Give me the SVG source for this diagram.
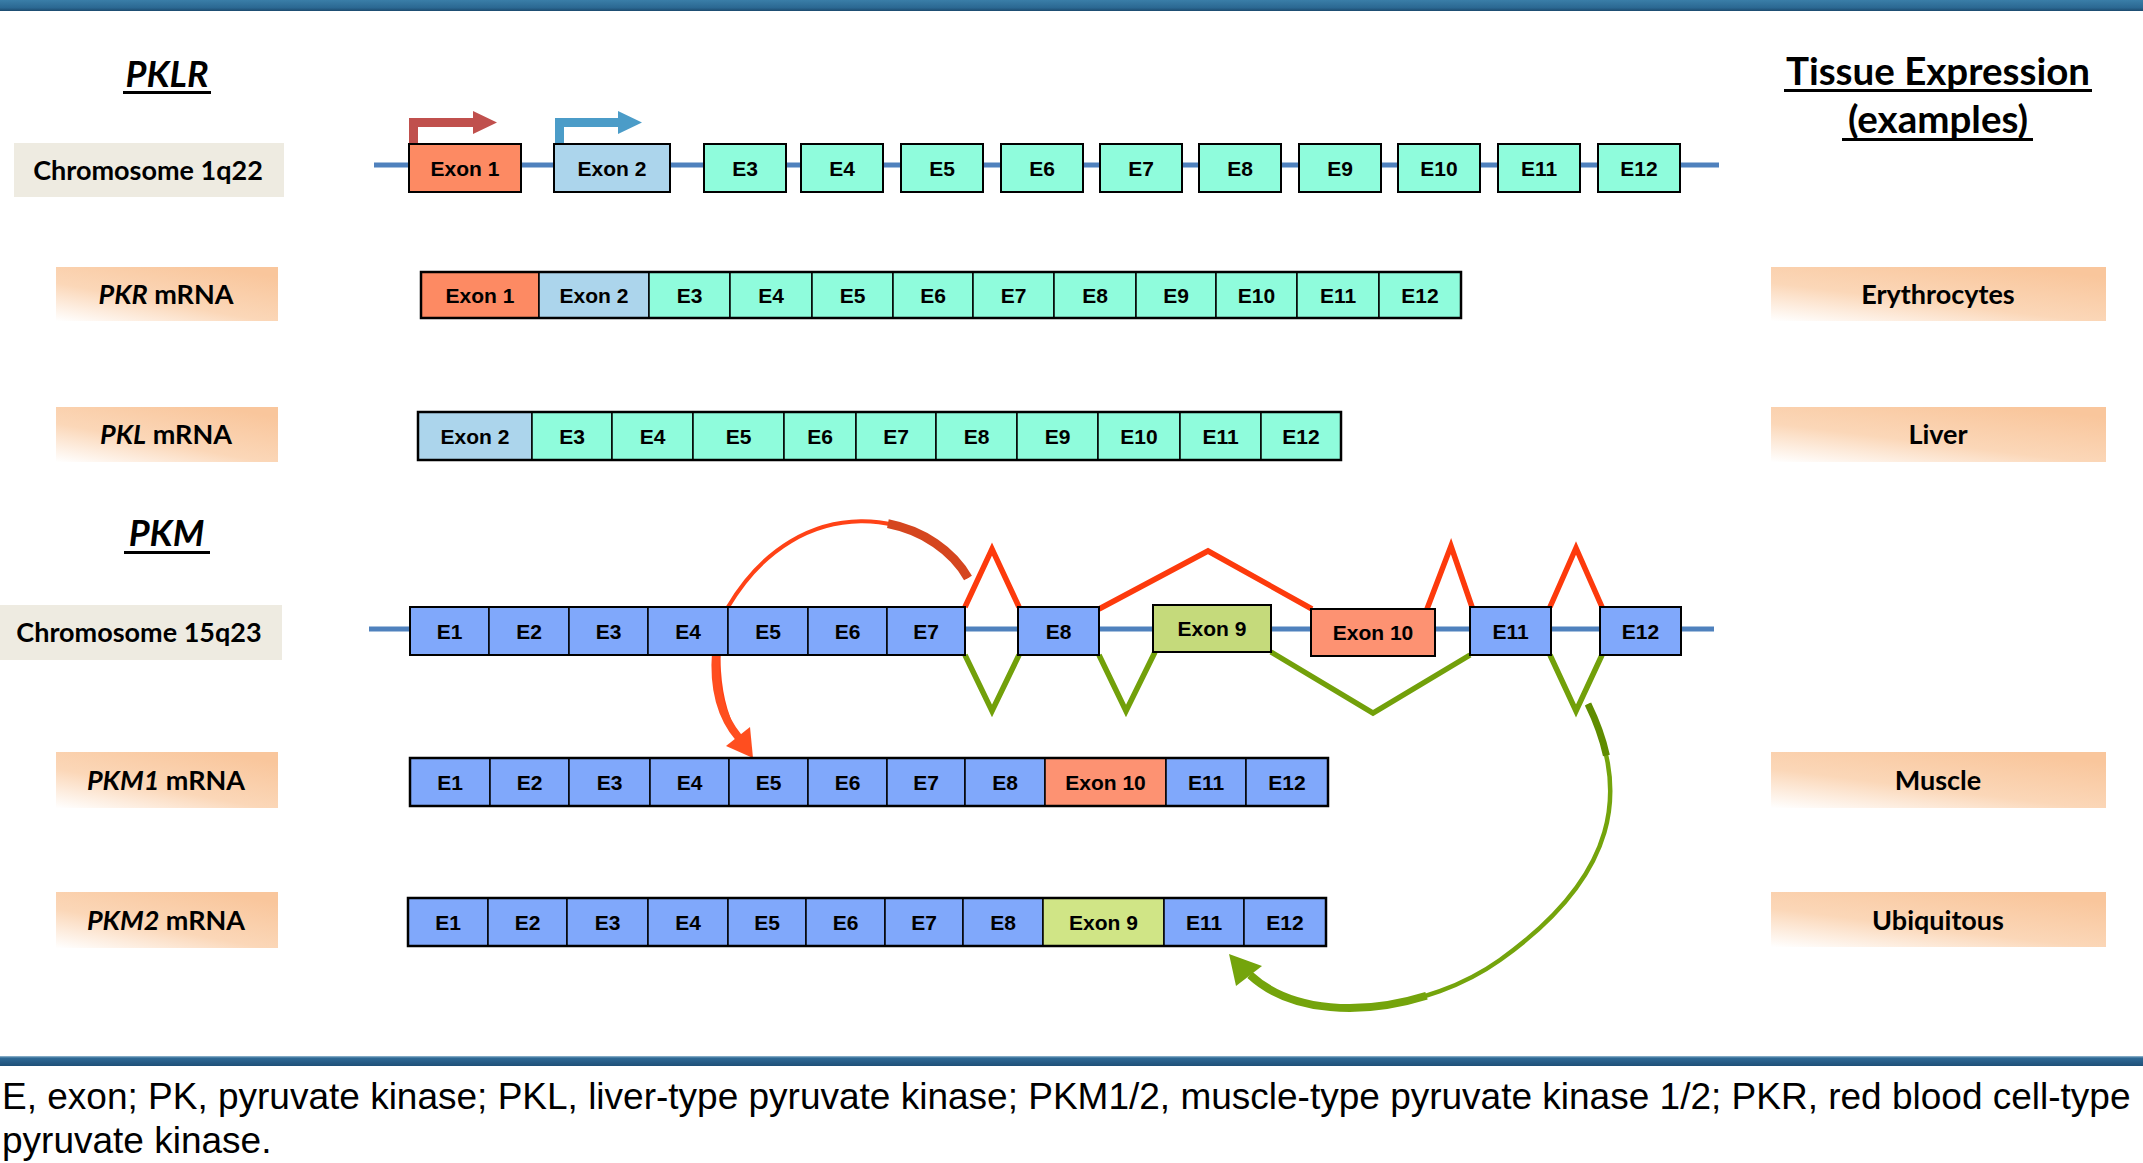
<svg xmlns="http://www.w3.org/2000/svg" width="2143" height="1163" viewBox="0 0 2143 1163">
<defs>
<linearGradient id="peach" x1="0" y1="1" x2="0.75" y2="0">
<stop offset="0" stop-color="#ffffff"/>
<stop offset="0.45" stop-color="#fbd7b8"/>
<stop offset="1" stop-color="#f9c69c"/>
</linearGradient>
<linearGradient id="barTop" x1="0" y1="0" x2="0" y2="1">
<stop offset="0" stop-color="#3a7ea8"/>
<stop offset="0.7" stop-color="#2b6892"/>
<stop offset="1" stop-color="#1c4a6e"/>
</linearGradient>
<linearGradient id="barBot" x1="0" y1="0" x2="0" y2="1">
<stop offset="0" stop-color="#9dbdd3"/>
<stop offset="0.2" stop-color="#2f6a96"/>
<stop offset="1" stop-color="#1f4f78"/>
</linearGradient>
</defs>
<style>
.bx{stroke:#000;stroke-width:2}
.sg{stroke:#000;stroke-width:1.5}
.out{fill:none;stroke:#000;stroke-width:2.5}
.o{fill:#fd8a63}
.b{fill:#acd5ec}
.m{fill:#8ffcdc}
.p{fill:#80a8fb}
.g{fill:#c5da7b}
.g2{fill:#d0e586}
.s{fill:#fd9272}
.ex{font-family:"Liberation Sans",Arial,sans-serif;font-weight:bold;font-size:21px;text-anchor:middle;fill:#000}
.lb{font-family:Lato,"Open Sans",sans-serif;font-weight:bold;font-size:27px;text-anchor:middle;fill:#000}
.ttl{font-family:Lato,"Open Sans",sans-serif;font-weight:bold;font-style:italic;font-size:36px;text-anchor:middle;fill:#000}
.hd{font-family:Lato,"Open Sans",sans-serif;font-weight:bold;font-size:38.5px;text-anchor:middle;fill:#000}
.cap{font-family:"Liberation Sans",Arial,sans-serif;font-size:37px;fill:#000}
.peach{fill:url(#peach)}
.bb{stroke:#4f81bd;stroke-width:5;fill:none}
.red{fill:none;stroke:#fd3a0c;stroke-width:5.5;stroke-linejoin:miter}
.grn{fill:none;stroke:#72a00a;stroke-width:5.5;stroke-linejoin:miter}
</style>
<rect width="2143" height="1163" fill="#ffffff"/>
<rect x="0" y="0" width="2143" height="11" fill="url(#barTop)"/>
<rect x="0" y="1056" width="2143" height="10" fill="url(#barBot)"/>

<g id="titles">
<text class="ttl" x="167" y="87">PKLR</text>
<rect x="123" y="91" width="88" height="3" fill="#000"/>
<text class="ttl" x="166.5" y="546">PKM</text>
<rect x="124" y="551" width="86" height="3" fill="#000"/>
<text class="hd" x="1938" y="85">Tissue Expression</text>
<rect x="1784" y="89" width="308" height="3" fill="#000"/>
<text class="hd" x="1938" y="133">(examples)</text>
<rect x="1842" y="138" width="191" height="3" fill="#000"/>
</g>

<g id="backbones">
<line class="bb" x1="374" y1="165" x2="1719" y2="165"/>
<line class="bb" x1="369" y1="629" x2="1714" y2="629"/>
</g>

<g id="connectors">
<path d="M409,145 V118 H473 V111 L497,122.5 L473,134 V127 H418 V145 Z" fill="#c0504d"/>
<path d="M555,145 V118 H618 V111 L642,122.5 L618,134 V127 H564 V145 Z" fill="#4b9cc8"/>
<polyline class="red" points="965,607 992,549 1019,607"/>
<polyline class="red" points="1099,609 1208,551 1312,609"/>
<polyline class="red" points="1427,609 1451,546 1472,607"/>
<polyline class="red" points="1550,607 1576,548 1602,607"/>
<polyline class="grn" points="965,655 992,711 1019,655"/>
<polyline class="grn" points="1099,655 1126,711 1155,652"/>
<polyline class="grn" points="1271,652 1373,713 1470,655"/>
<polyline class="grn" points="1550,655 1576,711 1602,655"/>
<path d="M968,578 C930,510 800,485 728,607 C714,640 714,700 740,742" fill="none" stroke="#ff4216" stroke-width="4"/>
<path d="M968,578 C952.8,550.8 922.9,530.5 887.9,523.7" fill="none" stroke="#d5461f" stroke-width="9"/>
<path d="M716,652 C713,690 722,718 739,738" fill="none" stroke="#ff4e1f" stroke-width="8"/>
<polygon points="726,746 750,727 753,758" fill="#ff4e1f"/>
<path d="M1588,704 C1630,790 1619,875 1500,960 C1430,1010 1310,1030 1250,975" fill="none" stroke="#74a40c" stroke-width="4.5"/>
<path d="M1588,704 C1596.4,721.2 1602.7,738.4 1606.4,755.5" fill="none" stroke="#5f8c00" stroke-width="7"/>
<path d="M1426.5,995.7 C1363.4,1015.25 1292,1013.5 1250,975" fill="none" stroke="#74a40c" stroke-width="8"/>
<polygon points="1229,954 1236,986 1262,966" fill="#74a40c"/>
</g>

<g id="chr1q22-label"><rect x="14" y="143" width="270" height="54" fill="#eeebe1"/><text class="lb" x="148" y="180" font-size="26">Chromosome 1q22</text></g>
<g id="chr15q23-label"><rect x="0" y="605" width="282" height="55" fill="#eeebe1"/><text class="lb" x="139" y="642" font-size="26">Chromosome 15q23</text></g>

<g id="pkr-label"><rect class="peach" x="56" y="267" width="222" height="54"/><text class="lb" x="166" y="304"><tspan font-style="italic">PKR</tspan> mRNA</text></g>
<g id="pkl-label"><rect class="peach" x="56" y="407" width="222" height="55"/><text class="lb" x="166" y="444"><tspan font-style="italic">PKL</tspan> mRNA</text></g>
<g id="pkm1-label"><rect class="peach" x="56" y="752" width="222" height="56"/><text class="lb" x="166" y="790"><tspan font-style="italic">PKM1</tspan> mRNA</text></g>
<g id="pkm2-label"><rect class="peach" x="56" y="892" width="222" height="56"/><text class="lb" x="166" y="930"><tspan font-style="italic">PKM2</tspan> mRNA</text></g>

<g id="tissue-erythrocytes"><rect class="peach" x="1771" y="267" width="335" height="54"/><text class="lb" x="1938" y="304">Erythrocytes</text></g>
<g id="tissue-liver"><rect class="peach" x="1771" y="407" width="335" height="55"/><text class="lb" x="1938" y="444">Liver</text></g>
<g id="tissue-muscle"><rect class="peach" x="1771" y="752" width="335" height="56"/><text class="lb" x="1938" y="790">Muscle</text></g>
<g id="tissue-ubiquitous"><rect class="peach" x="1771" y="892" width="335" height="55"/><text class="lb" x="1938" y="930">Ubiquitous</text></g>

<g id="pklr-gene">
<g id="pklr-exon1"><rect class="o bx" x="409" y="144" width="112" height="48"/><text class="ex" x="465" y="175.5">Exon 1</text></g>
<g id="pklr-exon2"><rect class="b bx" x="554" y="144" width="116" height="48"/><text class="ex" x="612" y="175.5">Exon 2</text></g>
<g id="pklr-e3"><rect class="m bx" x="704" y="144" width="82" height="48"/><text class="ex" x="745" y="175.5">E3</text></g>
<g id="pklr-e4"><rect class="m bx" x="801" y="144" width="82" height="48"/><text class="ex" x="842" y="175.5">E4</text></g>
<g id="pklr-e5"><rect class="m bx" x="901" y="144" width="82" height="48"/><text class="ex" x="942" y="175.5">E5</text></g>
<g id="pklr-e6"><rect class="m bx" x="1001" y="144" width="82" height="48"/><text class="ex" x="1042" y="175.5">E6</text></g>
<g id="pklr-e7"><rect class="m bx" x="1100" y="144" width="82" height="48"/><text class="ex" x="1141" y="175.5">E7</text></g>
<g id="pklr-e8"><rect class="m bx" x="1199" y="144" width="82" height="48"/><text class="ex" x="1240" y="175.5">E8</text></g>
<g id="pklr-e9"><rect class="m bx" x="1299" y="144" width="82" height="48"/><text class="ex" x="1340" y="175.5">E9</text></g>
<g id="pklr-e10"><rect class="m bx" x="1398" y="144" width="82" height="48"/><text class="ex" x="1439" y="175.5">E10</text></g>
<g id="pklr-e11"><rect class="m bx" x="1498" y="144" width="82" height="48"/><text class="ex" x="1539" y="175.5">E11</text></g>
<g id="pklr-e12"><rect class="m bx" x="1598" y="144" width="82" height="48"/><text class="ex" x="1639" y="175.5">E12</text></g>
</g>

<g id="pkr-mrna">
<rect class="o sg" x="421" y="272" width="118" height="46"/>
<rect class="b sg" x="539" y="272" width="110" height="46"/>
<rect class="m sg" x="649" y="272" width="81" height="46"/>
<rect class="m sg" x="730" y="272" width="82" height="46"/>
<rect class="m sg" x="812" y="272" width="81" height="46"/>
<rect class="m sg" x="893" y="272" width="80" height="46"/>
<rect class="m sg" x="973" y="272" width="81" height="46"/>
<rect class="m sg" x="1054" y="272" width="82" height="46"/>
<rect class="m sg" x="1136" y="272" width="80" height="46"/>
<rect class="m sg" x="1216" y="272" width="81" height="46"/>
<rect class="m sg" x="1297" y="272" width="82" height="46"/>
<rect class="m sg" x="1379" y="272" width="82" height="46"/>
<rect class="out" x="421" y="272" width="1040" height="46"/>
<text class="ex" x="480" y="302.5">Exon 1</text>
<text class="ex" x="594" y="302.5">Exon 2</text>
<text class="ex" x="689.5" y="302.5">E3</text>
<text class="ex" x="771" y="302.5">E4</text>
<text class="ex" x="852.5" y="302.5">E5</text>
<text class="ex" x="933" y="302.5">E6</text>
<text class="ex" x="1013.5" y="302.5">E7</text>
<text class="ex" x="1095" y="302.5">E8</text>
<text class="ex" x="1176" y="302.5">E9</text>
<text class="ex" x="1256.5" y="302.5">E10</text>
<text class="ex" x="1338" y="302.5">E11</text>
<text class="ex" x="1420" y="302.5">E12</text>
</g>

<g id="pkl-mrna">
<rect class="b sg" x="418" y="412" width="114" height="48"/>
<rect class="m sg" x="532" y="412" width="80" height="48"/>
<rect class="m sg" x="612" y="412" width="81" height="48"/>
<rect class="m sg" x="693" y="412" width="91" height="48"/>
<rect class="m sg" x="784" y="412" width="72" height="48"/>
<rect class="m sg" x="856" y="412" width="80" height="48"/>
<rect class="m sg" x="936" y="412" width="81" height="48"/>
<rect class="m sg" x="1017" y="412" width="81" height="48"/>
<rect class="m sg" x="1098" y="412" width="82" height="48"/>
<rect class="m sg" x="1180" y="412" width="81" height="48"/>
<rect class="m sg" x="1261" y="412" width="80" height="48"/>
<rect class="out" x="418" y="412" width="923" height="48"/>
<text class="ex" x="475" y="443.5">Exon 2</text>
<text class="ex" x="572" y="443.5">E3</text>
<text class="ex" x="652.5" y="443.5">E4</text>
<text class="ex" x="738.5" y="443.5">E5</text>
<text class="ex" x="820" y="443.5">E6</text>
<text class="ex" x="896" y="443.5">E7</text>
<text class="ex" x="976.5" y="443.5">E8</text>
<text class="ex" x="1057.5" y="443.5">E9</text>
<text class="ex" x="1139" y="443.5">E10</text>
<text class="ex" x="1220.5" y="443.5">E11</text>
<text class="ex" x="1301" y="443.5">E12</text>
</g>

<g id="pkm-gene">
<g id="pkm-e1-e7">
<rect class="p sg" x="410" y="607" width="79" height="48"/>
<rect class="p sg" x="489" y="607" width="80" height="48"/>
<rect class="p sg" x="569" y="607" width="79" height="48"/>
<rect class="p sg" x="648" y="607" width="80" height="48"/>
<rect class="p sg" x="728" y="607" width="80" height="48"/>
<rect class="p sg" x="808" y="607" width="79" height="48"/>
<rect class="p sg" x="887" y="607" width="78" height="48"/>
<rect class="out" x="410" y="607" width="555" height="48" style="stroke-width:2"/>
<text class="ex" x="449.5" y="638.5">E1</text>
<text class="ex" x="529" y="638.5">E2</text>
<text class="ex" x="608.5" y="638.5">E3</text>
<text class="ex" x="688" y="638.5">E4</text>
<text class="ex" x="768" y="638.5">E5</text>
<text class="ex" x="847.5" y="638.5">E6</text>
<text class="ex" x="926" y="638.5">E7</text>
</g>
<g id="pkm-e8"><rect class="p bx" x="1018" y="607" width="81" height="48"/><text class="ex" x="1058.5" y="638.5">E8</text></g>
<g id="pkm-exon9"><rect class="g bx" x="1153" y="605" width="118" height="47"/><text class="ex" x="1212" y="636">Exon 9</text></g>
<g id="pkm-exon10"><rect class="s bx" x="1311" y="609" width="124" height="47"/><text class="ex" x="1373" y="640">Exon 10</text></g>
<g id="pkm-e11"><rect class="p bx" x="1470" y="607" width="81" height="48"/><text class="ex" x="1510.5" y="638.5">E11</text></g>
<g id="pkm-e12"><rect class="p bx" x="1600" y="607" width="81" height="48"/><text class="ex" x="1640.5" y="638.5">E12</text></g>
</g>

<g id="pkm1-mrna">
<rect class="p sg" x="410" y="758" width="80" height="48"/>
<rect class="p sg" x="490" y="758" width="79" height="48"/>
<rect class="p sg" x="569" y="758" width="81" height="48"/>
<rect class="p sg" x="650" y="758" width="79" height="48"/>
<rect class="p sg" x="729" y="758" width="79" height="48"/>
<rect class="p sg" x="808" y="758" width="79" height="48"/>
<rect class="p sg" x="887" y="758" width="78" height="48"/>
<rect class="p sg" x="965" y="758" width="80" height="48"/>
<rect class="s sg" x="1045" y="758" width="121" height="48"/>
<rect class="p sg" x="1166" y="758" width="80" height="48"/>
<rect class="p sg" x="1246" y="758" width="82" height="48"/>
<rect class="out" x="410" y="758" width="918" height="48"/>
<text class="ex" x="450" y="789.5">E1</text>
<text class="ex" x="529.5" y="789.5">E2</text>
<text class="ex" x="609.5" y="789.5">E3</text>
<text class="ex" x="689.5" y="789.5">E4</text>
<text class="ex" x="768.5" y="789.5">E5</text>
<text class="ex" x="847.5" y="789.5">E6</text>
<text class="ex" x="926" y="789.5">E7</text>
<text class="ex" x="1005" y="789.5">E8</text>
<text class="ex" x="1105.5" y="789.5">Exon 10</text>
<text class="ex" x="1206" y="789.5">E11</text>
<text class="ex" x="1287" y="789.5">E12</text>
</g>

<g id="pkm2-mrna">
<rect class="p sg" x="408" y="898" width="80" height="48"/>
<rect class="p sg" x="488" y="898" width="79" height="48"/>
<rect class="p sg" x="567" y="898" width="81" height="48"/>
<rect class="p sg" x="648" y="898" width="80" height="48"/>
<rect class="p sg" x="728" y="898" width="78" height="48"/>
<rect class="p sg" x="806" y="898" width="79" height="48"/>
<rect class="p sg" x="885" y="898" width="78" height="48"/>
<rect class="p sg" x="963" y="898" width="80" height="48"/>
<rect class="g2 sg" x="1043" y="898" width="121" height="48"/>
<rect class="p sg" x="1164" y="898" width="80" height="48"/>
<rect class="p sg" x="1244" y="898" width="82" height="48"/>
<rect class="out" x="408" y="898" width="918" height="48"/>
<text class="ex" x="448" y="929.5">E1</text>
<text class="ex" x="527.5" y="929.5">E2</text>
<text class="ex" x="607.5" y="929.5">E3</text>
<text class="ex" x="688" y="929.5">E4</text>
<text class="ex" x="767" y="929.5">E5</text>
<text class="ex" x="845.5" y="929.5">E6</text>
<text class="ex" x="924" y="929.5">E7</text>
<text class="ex" x="1003" y="929.5">E8</text>
<text class="ex" x="1103.5" y="929.5">Exon 9</text>
<text class="ex" x="1204" y="929.5">E11</text>
<text class="ex" x="1285" y="929.5">E12</text>
</g>

<g id="caption">
<text class="cap" x="2" y="1109">E, exon; PK, pyruvate kinase; PKL, liver-type pyruvate kinase; PKM1/2, muscle-type pyruvate kinase 1/2; PKR, red blood cell-type</text>
<text class="cap" x="2" y="1153">pyruvate kinase.</text>
</g>
</svg>
